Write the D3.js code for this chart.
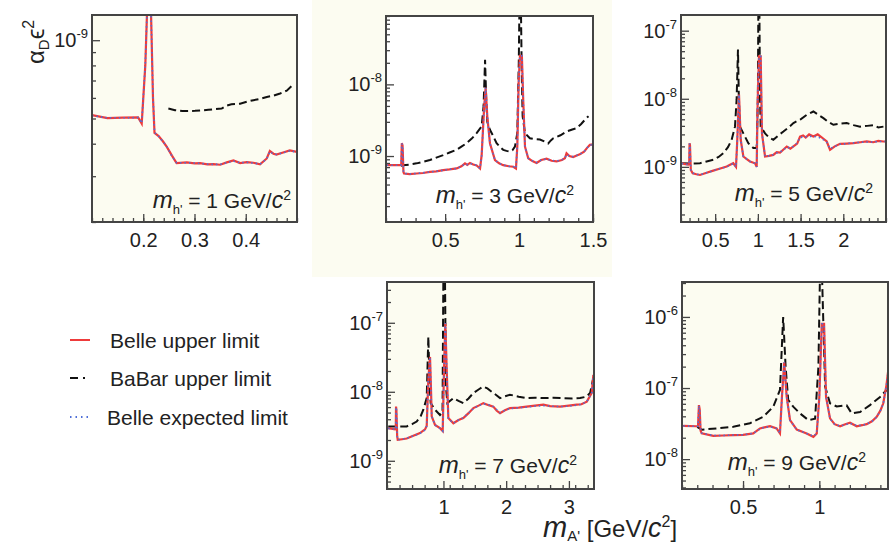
<!DOCTYPE html>
<html><head><meta charset="utf-8">
<script src="https://cdn.jsdelivr.net/npm/d3@7"></script>
<style>body{margin:0;background:#fff;} svg{display:block;font-family:"Liberation Sans",Arial,sans-serif;}</style>
</head><body><svg id="c" width="890" height="547"></svg>
<script>
// ---------------- data ----------------
const massValues = [1, 3, 5, 7, 9];
const legendLabels = ["Belle upper limit", "BaBar upper limit", "Belle expected limit"];

const p1XLabels = [0.2, 0.3, 0.4];
const p2XLabels = [0.5, 1, 1.5];
const p3XLabels = [0.5, 1, 1.5, 2];
const p4XLabels = [1, 2, 3];
const p5XLabels = [0.5, 1];

const p1YExps = [-9];
const p2YExps = [-9, -8];
const p3YExps = [-9, -8, -7];
const p4YExps = [-9, -8, -7];
const p5YExps = [-8, -7, -6];

const p1Belle = [[0.100,5.15e-10],[0.130,5.02e-10],[0.160,5.04e-10],[0.190,5.05e-10],[0.197,4.78e-10],[0.204,8.0e-10],[0.209,1.6e-9],[0.214,1.6e-9],[0.219,6.0e-10],[0.222,4.4e-10],[0.230,4.28e-10],[0.239,4.07e-10],[0.246,3.89e-10],[0.256,3.6e-10],[0.265,3.37e-10],[0.285,3.39e-10],[0.300,3.36e-10],[0.311,3.37e-10],[0.325,3.33e-10],[0.337,3.34e-10],[0.350,3.32e-10],[0.363,3.39e-10],[0.376,3.45e-10],[0.389,3.37e-10],[0.402,3.40e-10],[0.415,3.38e-10],[0.428,3.33e-10],[0.441,3.51e-10],[0.447,3.75e-10],[0.454,3.66e-10],[0.460,3.63e-10],[0.473,3.70e-10],[0.486,3.77e-10],[0.500,3.72e-10]];
const p1Exp = [[0.100,5.13e-10],[0.130,5.03e-10],[0.160,5.03e-10],[0.190,5.04e-10],[0.197,4.8e-10],[0.204,8.1e-10],[0.209,1.6e-9],[0.214,1.6e-9],[0.219,6.1e-10],[0.222,4.42e-10],[0.230,4.27e-10],[0.239,4.06e-10],[0.246,3.9e-10],[0.256,3.58e-10],[0.265,3.38e-10],[0.285,3.38e-10],[0.300,3.37e-10],[0.311,3.36e-10],[0.325,3.34e-10],[0.337,3.33e-10],[0.350,3.33e-10],[0.363,3.38e-10],[0.376,3.43e-10],[0.389,3.38e-10],[0.402,3.39e-10],[0.415,3.37e-10],[0.428,3.34e-10],[0.441,3.5e-10],[0.447,3.73e-10],[0.454,3.65e-10],[0.460,3.64e-10],[0.473,3.69e-10],[0.486,3.76e-10],[0.500,3.71e-10]];
const p1BaBar = [[0.249,5.46e-10],[0.262,5.38e-10],[0.276,5.34e-10],[0.301,5.35e-10],[0.327,5.40e-10],[0.353,5.46e-10],[0.362,5.6e-10],[0.372,5.67e-10],[0.389,5.70e-10],[0.402,5.8e-10],[0.415,5.88e-10],[0.428,5.95e-10],[0.441,6.05e-10],[0.454,6.12e-10],[0.467,6.24e-10],[0.480,6.4e-10],[0.489,6.65e-10]];

const p2Belle = [[0.105,7.46e-10],[0.190,7.46e-10],[0.203,7.5e-10],[0.207,1.51e-9],[0.212,1.4e-9],[0.218,6.0e-10],[0.222,5.7e-10],[0.260,5.6e-10],[0.307,5.7e-10],[0.350,5.8e-10],[0.397,6.0e-10],[0.440,6.1e-10],[0.487,6.35e-10],[0.530,6.5e-10],[0.578,6.71e-10],[0.610,7.2e-10],[0.634,7.9e-10],[0.650,7.5e-10],[0.668,8.0e-10],[0.690,7.6e-10],[0.713,7.4e-10],[0.736,6.7e-10],[0.747,1.03e-9],[0.763,4.45e-9],[0.774,9.0e-9],[0.785,3.58e-9],[0.803,1.51e-9],[0.837,8.8e-10],[0.865,7.9e-10],[0.893,7.46e-10],[0.930,7.2e-10],[0.961,7.08e-10],[0.979,6.7e-10],[0.988,1.35e-9],[0.997,1.06e-8],[1.006,2.5e-8],[1.019,2.5e-8],[1.028,6.1e-9],[1.040,1.35e-9],[1.062,9.3e-10],[1.090,8.5e-10],[1.118,8.0e-10],[1.150,8.8e-10],[1.186,9.2e-10],[1.220,8.6e-10],[1.254,8.4e-10],[1.290,8.8e-10],[1.310,9.3e-10],[1.321,1.09e-9],[1.340,1.0e-9],[1.366,9.7e-10],[1.390,1.02e-9],[1.411,1.06e-9],[1.440,1.15e-9],[1.460,1.3e-9],[1.479,1.43e-9],[1.500,1.45e-9]];
const p2Exp = [[0.105,7.44e-10],[0.190,7.44e-10],[0.203,7.5e-10],[0.207,1.5e-9],[0.212,1.4e-9],[0.218,6.0e-10],[0.222,5.72e-10],[0.260,5.62e-10],[0.307,5.7e-10],[0.350,5.82e-10],[0.397,6.0e-10],[0.440,6.12e-10],[0.487,6.33e-10],[0.530,6.52e-10],[0.578,6.7e-10],[0.610,7.15e-10],[0.634,7.8e-10],[0.650,7.6e-10],[0.668,7.9e-10],[0.690,7.65e-10],[0.713,7.4e-10],[0.736,6.75e-10],[0.747,1.02e-9],[0.763,4.4e-9],[0.774,9.0e-9],[0.785,3.6e-9],[0.803,1.5e-9],[0.837,8.8e-10],[0.865,7.9e-10],[0.893,7.45e-10],[0.930,7.2e-10],[0.961,7.1e-10],[0.979,6.75e-10],[0.988,1.35e-9],[0.997,1.05e-8],[1.006,2.5e-8],[1.019,2.5e-8],[1.028,6.1e-9],[1.040,1.35e-9],[1.062,9.3e-10],[1.090,8.6e-10],[1.118,8.1e-10],[1.150,8.8e-10],[1.186,9.1e-10],[1.220,8.7e-10],[1.254,8.5e-10],[1.290,8.9e-10],[1.310,9.3e-10],[1.321,1.05e-9],[1.340,1.0e-9],[1.366,9.8e-10],[1.390,1.02e-9],[1.411,1.06e-9],[1.440,1.15e-9],[1.460,1.3e-9],[1.479,1.42e-9],[1.500,1.45e-9]];
const p2BaBar = [[0.200,7.3e-10],[0.215,7.46e-10],[0.260,7.6e-10],[0.307,7.9e-10],[0.350,8.3e-10],[0.397,8.8e-10],[0.440,9.5e-10],[0.487,1.03e-9],[0.530,1.12e-9],[0.578,1.22e-9],[0.610,1.35e-9],[0.645,1.51e-9],[0.680,1.75e-9],[0.713,2.09e-9],[0.747,2.59e-9],[0.760,5.0e-9],[0.770,2.2e-8],[0.778,6.0e-9],[0.785,3.0e-9],[0.803,2.32e-9],[0.825,1.9e-9],[0.848,1.51e-9],[0.870,1.35e-9],[0.893,1.22e-9],[0.915,1.18e-9],[0.938,1.15e-9],[0.955,1.2e-9],[0.972,1.35e-9],[0.988,2.09e-9],[0.998,2.0e-8],[1.003,1.5e-7],[1.012,1.5e-7],[1.018,1.5e-8],[1.024,3.6e-9],[1.040,2.09e-9],[1.073,1.77e-9],[1.110,1.72e-9],[1.141,1.7e-9],[1.170,1.6e-9],[1.197,1.5e-9],[1.215,1.65e-9],[1.231,1.77e-9],[1.280,1.95e-9],[1.321,2.2e-9],[1.360,2.35e-9],[1.389,2.45e-9],[1.420,2.8e-9],[1.456,3.4e-9],[1.470,3.6e-9]];

const p3Belle = [[0.108,1.13e-9],[0.150,1.1e-9],[0.186,1.08e-9],[0.196,1.1e-9],[0.200,2.23e-9],[0.205,2.1e-9],[0.215,9.0e-10],[0.237,8.07e-10],[0.280,7.8e-10],[0.322,7.6e-10],[0.400,8.2e-10],[0.478,8.8e-10],[0.550,9.4e-10],[0.635,1.01e-9],[0.680,1.08e-9],[0.712,1.13e-9],[0.744,1.0e-9],[0.759,2.5e-9],[0.779,1.15e-8],[0.799,2.5e-9],[0.830,1.42e-9],[0.870,1.3e-9],[0.908,1.2e-9],[0.967,1.13e-9],[0.986,1.0e-9],[0.998,9.7e-9],[1.013,4.2e-8],[1.033,4.2e-8],[1.048,3.1e-9],[1.084,1.42e-9],[1.130,1.45e-9],[1.181,1.5e-9],[1.220,1.65e-9],[1.260,1.62e-9],[1.300,1.8e-9],[1.338,1.99e-9],[1.380,1.85e-9],[1.416,2.0e-9],[1.460,2.2e-9],[1.494,2.79e-9],[1.530,2.9e-9],[1.560,2.7e-9],[1.600,3.0e-9],[1.650,2.8e-9],[1.700,3.0e-9],[1.750,2.7e-9],[1.806,2.36e-9],[1.845,1.78e-9],[1.900,2.0e-9],[1.962,2.18e-9],[2.040,2.2e-9],[2.118,2.23e-9],[2.200,2.3e-9],[2.274,2.36e-9],[2.350,2.3e-9],[2.410,2.4e-9],[2.470,2.36e-9],[2.500,2.36e-9]];
const p3Exp = [[0.108,1.12e-9],[0.150,1.1e-9],[0.186,1.08e-9],[0.196,1.1e-9],[0.200,2.2e-9],[0.205,2.1e-9],[0.215,9.0e-10],[0.237,8.1e-10],[0.280,7.8e-10],[0.322,7.65e-10],[0.400,8.2e-10],[0.478,8.8e-10],[0.550,9.4e-10],[0.635,1.0e-9],[0.680,1.07e-9],[0.712,1.12e-9],[0.744,1.0e-9],[0.759,2.5e-9],[0.779,1.15e-8],[0.799,2.5e-9],[0.830,1.42e-9],[0.870,1.3e-9],[0.908,1.2e-9],[0.967,1.12e-9],[0.986,1.0e-9],[0.998,9.7e-9],[1.013,4.2e-8],[1.033,4.2e-8],[1.048,3.1e-9],[1.084,1.43e-9],[1.130,1.45e-9],[1.181,1.52e-9],[1.220,1.6e-9],[1.260,1.65e-9],[1.300,1.78e-9],[1.338,1.95e-9],[1.380,1.9e-9],[1.416,2.0e-9],[1.460,2.25e-9],[1.494,2.7e-9],[1.530,2.75e-9],[1.600,2.8e-9],[1.650,2.8e-9],[1.700,2.75e-9],[1.750,2.6e-9],[1.806,2.3e-9],[1.845,1.85e-9],[1.900,2.0e-9],[1.962,2.15e-9],[2.040,2.2e-9],[2.118,2.25e-9],[2.200,2.3e-9],[2.274,2.32e-9],[2.350,2.32e-9],[2.410,2.35e-9],[2.470,2.36e-9],[2.500,2.36e-9]];
const p3BaBar = [[0.108,1.13e-9],[0.200,1.12e-9],[0.322,1.13e-9],[0.400,1.2e-9],[0.478,1.27e-9],[0.540,1.4e-9],[0.596,1.59e-9],[0.650,1.95e-9],[0.693,2.5e-9],[0.732,3.9e-9],[0.751,9.7e-9],[0.767,5.3e-8],[0.778,9.0e-9],[0.790,3.9e-9],[0.830,3.1e-9],[0.888,2.23e-9],[0.947,1.9e-9],[0.986,1.9e-9],[1.000,1.0e-8],[1.006,3.0e-7],[1.017,3.0e-7],[1.025,1.0e-8],[1.033,3.9e-9],[1.084,3.1e-9],[1.130,2.7e-9],[1.181,2.5e-9],[1.240,2.9e-9],[1.299,3.3e-9],[1.360,3.8e-9],[1.416,4.4e-9],[1.500,5.0e-9],[1.572,5.8e-9],[1.650,6.5e-9],[1.710,5.8e-9],[1.767,5.2e-9],[1.820,4.6e-9],[1.884,4.15e-9],[1.960,4.3e-9],[2.040,4.4e-9],[2.120,4.1e-9],[2.196,3.9e-9],[2.280,4.0e-9],[2.352,4.1e-9],[2.410,3.8e-9],[2.470,3.9e-9]];

const p4Belle = [[0.120,2.97e-9],[0.228,2.85e-9],[0.240,2.9e-9],[0.244,6.1e-9],[0.250,5.5e-9],[0.262,2.3e-9],[0.271,2.01e-9],[0.340,2.05e-9],[0.414,2.1e-9],[0.520,2.3e-9],[0.626,2.52e-9],[0.706,2.85e-9],[0.733,3.2e-9],[0.759,1.5e-8],[0.786,3.2e-8],[0.800,1.2e-8],[0.813,4.4e-9],[0.866,3.3e-9],[0.945,2.97e-9],[0.988,2.7e-9],[1.009,2.08e-8],[1.030,9.9e-8],[1.052,2.08e-8],[1.078,4.15e-9],[1.158,3.5e-9],[1.240,3.9e-9],[1.317,4.15e-9],[1.400,4.9e-9],[1.477,5.8e-9],[1.560,6.3e-9],[1.636,6.85e-9],[1.720,6.4e-9],[1.795,6.1e-9],[1.850,5.3e-9],[1.902,4.9e-9],[1.980,5.4e-9],[2.061,5.8e-9],[2.200,5.9e-9],[2.327,6.1e-9],[2.460,6.3e-9],[2.593,6.5e-9],[2.700,6.2e-9],[2.859,6.1e-9],[3.000,6.3e-9],[3.125,6.5e-9],[3.200,6.6e-9],[3.285,7.2e-9],[3.364,9.6e-9],[3.390,1.76e-8]];
const p4Exp = [[0.120,2.95e-9],[0.228,2.85e-9],[0.240,2.9e-9],[0.244,6.0e-9],[0.250,5.5e-9],[0.262,2.3e-9],[0.271,2.02e-9],[0.340,2.05e-9],[0.414,2.12e-9],[0.520,2.3e-9],[0.626,2.5e-9],[0.706,2.8e-9],[0.733,3.2e-9],[0.759,1.5e-8],[0.786,3.2e-8],[0.800,1.2e-8],[0.813,4.4e-9],[0.866,3.3e-9],[0.945,2.95e-9],[0.988,2.7e-9],[1.009,2.08e-8],[1.030,9.9e-8],[1.052,2.08e-8],[1.078,4.1e-9],[1.158,3.5e-9],[1.240,3.9e-9],[1.317,4.2e-9],[1.400,4.9e-9],[1.477,5.7e-9],[1.560,6.3e-9],[1.636,6.7e-9],[1.720,6.5e-9],[1.795,6.1e-9],[1.850,5.5e-9],[1.902,5.0e-9],[1.980,5.4e-9],[2.061,5.7e-9],[2.200,5.9e-9],[2.327,6.0e-9],[2.460,6.2e-9],[2.593,6.3e-9],[2.700,6.2e-9],[2.859,6.1e-9],[3.000,6.2e-9],[3.125,6.4e-9],[3.200,6.6e-9],[3.285,7.2e-9],[3.364,9.5e-9],[3.390,1.75e-8]];
const p4BaBar = [[0.120,3.15e-9],[0.250,3.15e-9],[0.414,3.15e-9],[0.500,3.4e-9],[0.573,3.7e-9],[0.640,4.5e-9],[0.679,5.5e-9],[0.733,8.1e-9],[0.759,6.3e-8],[0.780,1.2e-8],[0.796,6.85e-9],[0.866,5.5e-9],[0.945,4.6e-9],[0.985,5.0e-9],[0.998,4.0e-7],[1.025,4.0e-7],[1.040,1.2e-8],[1.062,6.85e-9],[1.158,8.1e-9],[1.240,7.4e-9],[1.317,6.85e-9],[1.400,8.0e-9],[1.477,9.6e-9],[1.560,1.08e-8],[1.636,1.19e-8],[1.700,1.12e-8],[1.769,1.0e-8],[1.840,9.0e-9],[1.902,8.1e-9],[1.980,8.6e-9],[2.061,9.05e-9],[2.200,8.5e-9],[2.327,8.1e-9],[2.460,8.2e-9],[2.593,8.1e-9],[2.750,8.2e-9],[2.912,8.1e-9],[3.050,8.0e-9],[3.178,8.1e-9],[3.280,8.5e-9],[3.338,9.6e-9],[3.390,1.6e-8]];

const p5Belle = [[0.109,2.94e-8],[0.196,2.9e-8],[0.205,2.9e-8],[0.211,5.75e-8],[0.216,5.0e-8],[0.222,2.5e-8],[0.229,2.3e-8],[0.305,2.13e-8],[0.370,2.15e-8],[0.436,2.17e-8],[0.500,2.2e-8],[0.567,2.3e-8],[0.611,2.7e-8],[0.640,2.8e-8],[0.677,2.9e-8],[0.720,2.7e-8],[0.742,2.3e-8],[0.755,7.55e-8],[0.770,2.3e-7],[0.786,7.55e-8],[0.808,3.54e-8],[0.852,2.6e-8],[0.917,2.3e-8],[0.961,2.06e-8],[0.983,2.3e-8],[1.000,7.55e-8],[1.016,8.0e-7],[1.031,8.0e-7],[1.044,7.5e-8],[1.070,3.74e-8],[1.100,3.1e-8],[1.136,2.9e-8],[1.170,3.1e-8],[1.201,3.25e-8],[1.245,2.9e-8],[1.280,3.0e-8],[1.310,3.1e-8],[1.345,3.4e-8],[1.376,3.95e-8],[1.400,4.8e-8],[1.419,6.1e-8],[1.440,1.1e-7],[1.452,1.8e-7]];
const p5Exp = [[0.109,2.92e-8],[0.196,2.9e-8],[0.205,2.9e-8],[0.211,5.7e-8],[0.216,5.0e-8],[0.222,2.5e-8],[0.229,2.32e-8],[0.305,2.15e-8],[0.370,2.15e-8],[0.436,2.18e-8],[0.500,2.2e-8],[0.567,2.3e-8],[0.611,2.65e-8],[0.640,2.8e-8],[0.677,2.85e-8],[0.720,2.7e-8],[0.742,2.35e-8],[0.755,7.5e-8],[0.770,2.3e-7],[0.786,7.5e-8],[0.808,3.5e-8],[0.852,2.6e-8],[0.917,2.3e-8],[0.961,2.1e-8],[0.983,2.3e-8],[1.000,7.5e-8],[1.016,8.0e-7],[1.031,8.0e-7],[1.044,7.5e-8],[1.070,3.7e-8],[1.100,3.1e-8],[1.136,2.92e-8],[1.170,3.05e-8],[1.201,3.2e-8],[1.245,2.95e-8],[1.280,3.0e-8],[1.310,3.1e-8],[1.345,3.4e-8],[1.376,3.9e-8],[1.400,4.8e-8],[1.419,6.0e-8],[1.440,1.1e-7],[1.452,1.8e-7]];
const p5BaBar = [[0.200,2.85e-8],[0.229,2.6e-8],[0.327,2.7e-8],[0.436,2.85e-8],[0.545,3.2e-8],[0.633,3.95e-8],[0.698,5.46e-8],[0.742,9.4e-8],[0.763,1.0e-6],[0.779,2.0e-7],[0.796,6.8e-8],[0.829,5.46e-8],[0.873,4.4e-8],[0.928,3.54e-8],[0.972,3.7e-8],[0.994,2.0e-7],[1.005,5.0e-6],[1.016,5.0e-6],[1.038,1.05e-7],[1.070,6.1e-8],[1.114,5.5e-8],[1.179,5.7e-8],[1.212,4.4e-8],[1.267,4.6e-8],[1.332,5.75e-8],[1.398,7.5e-8],[1.441,9.4e-8]];

// ---------------- layout ----------------
const panels = [
  {m: massValues[0], belle: p1Belle, exp: p1Exp, babar: p1BaBar, xLabels: p1XLabels, yExps: p1YExps, xDomain: [0.1, 0.5], yDomain: [2e-10, 1.25e-9], minorStep: 0.02,
   box: {l: 92, r: 297, t: 15, b: 222}, bg: "#fcfcf1", textX: 291, textY: 208},
  {m: massValues[1], belle: p2Belle, exp: p2Exp, babar: p2BaBar, xLabels: p2XLabels, yExps: p2YExps, xDomain: [0.1, 1.5], yDomain: [1.2e-10, 9e-8], minorStep: 0.1,
   box: {l: 386, r: 593, t: 16, b: 222}, bg: "#ffffff", textX: 574, textY: 203},
  {m: massValues[2], belle: p3Belle, exp: p3Exp, babar: p3BaBar, xLabels: p3XLabels, yExps: p3YExps, xDomain: [0.1, 2.5], yDomain: [1.55e-10, 1.7e-7], minorStep: 0.1,
   box: {l: 681, r: 886, t: 15, b: 222}, bg: "#fcfcf1", textX: 873, textY: 201},
  {m: massValues[3], belle: p4Belle, exp: p4Exp, babar: p4BaBar, xLabels: p4XLabels, yExps: p4YExps, xDomain: [0.1, 3.4], yDomain: [3.9e-10, 3.9e-7], minorStep: 0.2,
   box: {l: 387, r: 594, t: 282, b: 489}, bg: "#fcfcf1", textX: 577, textY: 473},
  {m: massValues[4], belle: p5Belle, exp: p5Exp, babar: p5BaBar, xLabels: p5XLabels, yExps: p5YExps, xDomain: [0.1, 1.45], yDomain: [3.8e-9, 3.1e-6], minorStep: 0.1,
   box: {l: 682, r: 888, t: 282, b: 489}, bg: "#fcfcf1", textX: 866, textY: 470}
];

const svg = d3.select("#c");
const textColor = "#222";
const frameColor = "#444";
const red = "#ee3b3b", blue = "#4f6fd8", black = "#111";

// cream backdrop behind panel 2
svg.append("rect").attr("x", 312).attr("y", 0).attr("width", 300).attr("height", 277).attr("fill", "#fcfcf1");

const defs = svg.append("defs");

panels.forEach((p, i) => {
  const B = p.box;
  const x = d3.scaleLinear().domain(p.xDomain).range([B.l, B.r]);
  const y = d3.scaleLog().domain(p.yDomain).range([B.b, B.t]);
  const g = svg.append("g");

  g.append("rect").attr("x", B.l).attr("y", B.t).attr("width", B.r - B.l).attr("height", B.b - B.t).attr("fill", p.bg);

  defs.append("clipPath").attr("id", "clip" + i).append("rect")
    .attr("x", B.l).attr("y", B.t - 1).attr("width", B.r - B.l).attr("height", B.b - B.t + 1);

  // x ticks (inward)
  const minor = d3.range(p.xDomain[0], p.xDomain[1] + 1e-9, p.minorStep).map(v => +v.toFixed(4));
  const xMinorAxis = d3.axisBottom(x).tickValues(minor).tickSize(-4).tickFormat("");
  const xMajorAxis = d3.axisBottom(x).tickValues(p.xLabels).tickSize(-8).tickPadding(6).tickFormat(d3.format("~g"));
  const gx1 = g.append("g").attr("transform", `translate(0,${B.b})`).call(xMinorAxis);
  const gx2 = g.append("g").attr("transform", `translate(0,${B.b})`).call(xMajorAxis);
  [gx1, gx2].forEach(a => { a.select(".domain").remove(); a.selectAll("line").attr("stroke", frameColor).attr("stroke-width", 1.3); });
  gx2.selectAll("text").attr("fill", textColor).attr("font-size", 20).attr("dy", "0.95em");

  // y ticks (log, inward)
  const [y0, y1] = p.yDomain;
  const yMinor = [], yMajor = [];
  for (let e = Math.floor(Math.log10(y0)); e <= Math.ceil(Math.log10(y1)); e++) {
    for (let k = 1; k <= 9; k++) {
      const v = k * Math.pow(10, e);
      if (v >= y0 && v <= y1) (k === 1 ? yMajor : yMinor).push(v);
    }
  }
  const gy1 = g.append("g").attr("transform", `translate(${B.l},0)`).call(d3.axisLeft(y).tickValues(yMinor).tickSize(-4).tickFormat(""));
  const gy2 = g.append("g").attr("transform", `translate(${B.l},0)`).call(d3.axisLeft(y).tickValues(yMajor).tickSize(-8).tickFormat(""));
  [gy1, gy2].forEach(a => { a.select(".domain").remove(); a.selectAll("line").attr("stroke", frameColor).attr("stroke-width", 1.3); });

  p.yExps.forEach(e => {
    const t = g.append("text").attr("x", B.l - 4).attr("y", y(Math.pow(10, e)) + 7)
      .attr("text-anchor", "end").attr("fill", textColor).attr("font-size", 20);
    t.append("tspan").text("10");
    t.append("tspan").attr("font-size", 13).attr("dy", -9).text(String(e));
  });

  // curves
  const line = d3.line().x(d => x(d[0])).y(d => y(d[1]));
  const cg = g.append("g").attr("clip-path", `url(#clip${i})`);
  cg.append("path").datum(p.babar).attr("d", line).attr("fill", "none").attr("stroke", black)
    .attr("stroke-width", 2).attr("stroke-dasharray", "8,4");
  cg.append("path").datum(p.belle).attr("d", line).attr("fill", "none").attr("stroke", red)
    .attr("stroke-width", 2.2);
  cg.append("path").datum(p.exp).attr("d", line).attr("fill", "none").attr("stroke", blue)
    .attr("stroke-width", 1.6).attr("stroke-dasharray", "1.5,3");

  // frame
  g.append("rect").attr("x", B.l).attr("y", B.t).attr("width", B.r - B.l).attr("height", B.b - B.t)
    .attr("fill", "none").attr("stroke", frameColor).attr("stroke-width", 2);

  // mass label
  const lt = g.append("text").attr("x", p.textX).attr("y", p.textY).attr("text-anchor", "end")
    .attr("fill", textColor).attr("font-size", 21);
  lt.append("tspan").attr("font-style", "italic").attr("font-size", 24).text("m");
  lt.append("tspan").attr("font-size", 13).attr("dy", 6).text("h'");
  lt.append("tspan").attr("dy", -6).text(` = ${p.m} GeV/`);
  lt.append("tspan").attr("font-style", "italic").attr("font-size", 23).text("c");
  lt.append("tspan").attr("font-size", 14).attr("dy", -8).text("2");
});

// y-axis title
const yt = svg.append("text").attr("transform", "translate(44,64) rotate(-90)").attr("fill", textColor).attr("font-size", 24);
yt.append("tspan").text("α");
yt.append("tspan").attr("font-size", 15).attr("dy", 5).text("D");
yt.append("tspan").attr("dy", -5).text("ϵ");
yt.append("tspan").attr("font-size", 16).attr("dy", -10).text("2");

// x-axis title
const xt = svg.append("text").attr("x", 543).attr("y", 537).attr("fill", textColor).attr("font-size", 24);
xt.append("tspan").attr("font-style", "italic").attr("font-size", 29).text("m");
xt.append("tspan").attr("font-size", 15).attr("dy", 4).text("A'");
xt.append("tspan").attr("dy", -4).text(" [GeV/");
xt.append("tspan").attr("font-style", "italic").attr("font-size", 27).text("c");
xt.append("tspan").attr("font-size", 16).attr("dy", -10).text("2");
xt.append("tspan").attr("dy", 10).text("]");

// legend
const lg = svg.append("g");
const rows = [
  {y: 343, color: red, dash: null, w: 2},
  {y: 381, color: black, dash: "8,5,2,5", w: 2},
  {y: 420, color: blue, dash: "1.5,4", w: 1.8}
];
rows.forEach((r, i) => {
  const ln = lg.append("line").attr("x1", 70).attr("x2", 90).attr("y1", r.y - 3).attr("y2", r.y - 3)
    .attr("stroke", r.color).attr("stroke-width", r.w);
  if (r.dash) ln.attr("stroke-dasharray", r.dash);
  lg.append("text").attr("x", i === 2 ? 107 : 110).attr("y", r.y + 5).attr("fill", textColor)
    .attr("font-size", 21).text(legendLabels[i]);
});
</script></body></html>
